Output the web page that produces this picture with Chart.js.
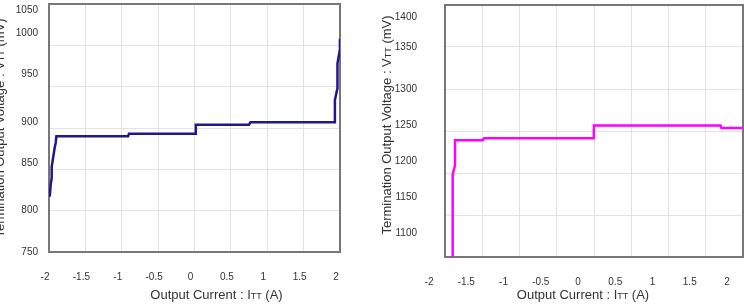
<!DOCTYPE html>
<html>
<head>
<meta charset="utf-8">
<script src="https://cdn.jsdelivr.net/npm/chart.js@4/dist/chart.umd.min.js"></script>
<style>
  body { margin: 0; background: #fff; }
  .box { position: absolute; top: 0; width: 372px; height: 306px; }
  #leftBox { left: 0; }
  #rightBox { left: 372px; }
</style>
</head>
<body>
<div class="box" id="leftBox"><canvas id="left" width="372" height="306"></canvas></div>
<div class="box" id="rightBox"><canvas id="right" width="372" height="306"></canvas></div>
<script>
// Output current (A) vs termination voltage (mV)
const leftCurrent = [-1.99, -1.977, -1.963, -1.963, -1.922, -1.908, -1.898, -0.913, -0.9, 0.018, 0.018, 0.75, 0.77, 1.93, 1.93, 1.965, 1.965, 1.999, 1.999];
const leftVoltage = [817, 831, 840, 853, 876, 882, 890, 890, 893, 893, 904, 904, 907, 907, 934, 948, 978, 995, 1008];

const rightCurrent = [-1.897, -1.897, -1.866, -1.866, -1.494, -1.477, -0.004, 0.0, 1.698, 1.711, 2.0];
const rightVoltage = [1100, 1198, 1209, 1239, 1239, 1241.5, 1241.5, 1256.5, 1256.5, 1253.5, 1253.5];

const currentTicks = [-2, -1.5, -1, -0.5, 0, 0.5, 1, 1.5, 2];
const leftVoltageTicks = [750, 800, 850, 900, 950, 1000, 1050];
const rightVoltageTicks = [1100, 1150, 1200, 1250, 1300, 1350, 1400];

const FONT = "'Liberation Sans', Arial, sans-serif";
const TEXT = '#333';

function drawSubText(ctx, parts, cx, cy) {
  const big = '13px ' + FONT, small = '9px ' + FONT;
  ctx.font = big;
  const w0 = ctx.measureText(parts[0]).width;
  const w2 = ctx.measureText(parts[2]).width;
  ctx.font = small;
  const w1 = ctx.measureText(parts[1]).width;
  let x = cx - (w0 + w1 + w2) / 2;
  ctx.textAlign = 'left';
  ctx.textBaseline = 'middle';
  ctx.fillStyle = TEXT;
  ctx.font = big; ctx.fillText(parts[0], x, cy); x += w0;
  ctx.font = small; ctx.fillText(parts[1], x, cy + 2); x += w1;
  ctx.font = big; ctx.fillText(parts[2], x, cy);
}

// y labels in the original drift off their grid lines; nudge in half-line steps
// (n > 0: blank lines before -> moves down, n < 0: blank lines after -> moves up)
function nudge(label, n) {
  if (n > 0) return Array(n).fill('').concat(label);
  if (n < 0) return [label].concat(Array(-n).fill(''));
  return label;
}

// frame round the plot + axis titles with subscripts
const frameAndTitles = {
  id: 'frameAndTitles',
  beforeDatasetsDraw(chart, args, opts) {
    const { ctx, chartArea: a } = chart;
    ctx.save();
    ctx.strokeStyle = '#777';
    ctx.lineWidth = 2;
    ctx.strokeRect(a.left, a.top, a.right - a.left, a.bottom - a.top);
    ctx.restore();
  },
  afterDraw(chart, args, opts) {
    const { ctx, chartArea: a } = chart;
    ctx.save();
    drawSubText(ctx, ['Output Current : I', 'TT', ' (A)'], (a.left + a.right) / 2 + opts.xShift, opts.xTitleY);
    ctx.translate(opts.yTitleX, (a.top + a.bottom) / 2 + opts.yShift);
    ctx.rotate(-Math.PI / 2);
    drawSubText(ctx, ['Termination Output Voltage : V', 'TT', ' (mV)'], 0, 0);
    ctx.restore();
  }
};

function makeChart(id, xs, ys, color, yTicks, s) {
  const points = xs.map((x, i) => ({ x: x, y: ys[i] }));
  return new Chart(document.getElementById(id), {
    type: 'line',
    data: {
      datasets: [{
        data: points,
        borderColor: color,
        borderWidth: 2.5,
        pointRadius: 0,
        tension: 0,
        fill: false
      }]
    },
    options: {
      responsive: false,
      animation: false,
      events: [],
      layout: { padding: { top: s.top, right: s.right, left: 0, bottom: 0 } },
      plugins: {
        legend: { display: false },
        tooltip: { enabled: false },
        frameAndTitles: { xShift: s.xShift, xTitleY: 295, yTitleX: s.yTitleX, yShift: s.yShift }
      },
      scales: {
        x: {
          type: 'linear',
          min: -2,
          max: 2,
          afterBuildTicks: sc => { sc.ticks = currentTicks.map(v => ({ value: v })); },
          afterFit: sc => { sc.height = s.xHeight; sc.paddingLeft = 0; sc.paddingRight = 0; },
          grid: { color: '#e2e2e2', lineWidth: 1, drawTicks: false },
          border: { display: false },
          ticks: {
            padding: 19,
            labelOffset: s.xLabelOffset,
            maxRotation: 0,
            autoSkip: false,
            color: TEXT,
            font: { family: FONT, size: 10 },
            callback: v => String(v)
          }
        },
        y: {
          min: yTicks[0],
          max: yTicks[yTicks.length - 1],
          afterBuildTicks: sc => { sc.ticks = yTicks.map(v => ({ value: v })); },
          afterFit: sc => { sc.width = s.yWidth; sc.paddingTop = 0; sc.paddingBottom = 0; },
          grid: { color: '#e2e2e2', lineWidth: 1, drawTicks: false },
          border: { display: false },
          ticks: {
            padding: s.yPad,
            autoSkip: false,
            color: TEXT,
            font: { family: FONT, size: 10 },
            callback: (v, i) => nudge(String(v), s.yNudge[i])
          }
        }
      }
    },
    plugins: [frameAndTitles]
  });
}

var leftChart = makeChart('left', leftCurrent, leftVoltage, '#22168f', leftVoltageTicks, {
  top: 4, right: 32, xHeight: 54, yWidth: 49, yPad: 11, yNudge: [0, 0, -1, -1, -2, -2, 1],
  xLabelOffset: -4, xShift: 22, yTitleX: 0, yShift: 0
});

var rightChart = makeChart('right', rightCurrent, rightVoltage, '#ff00ff', rightVoltageTicks, {
  top: 5, right: 1, xHeight: 49, yWidth: 73, yPad: 28, yNudge: [-4, -3, -2, -1, 0, 0, 2],
  xLabelOffset: -16, xShift: -11, yTitleX: 15, yShift: -6
});
</script>
</body>
</html>
